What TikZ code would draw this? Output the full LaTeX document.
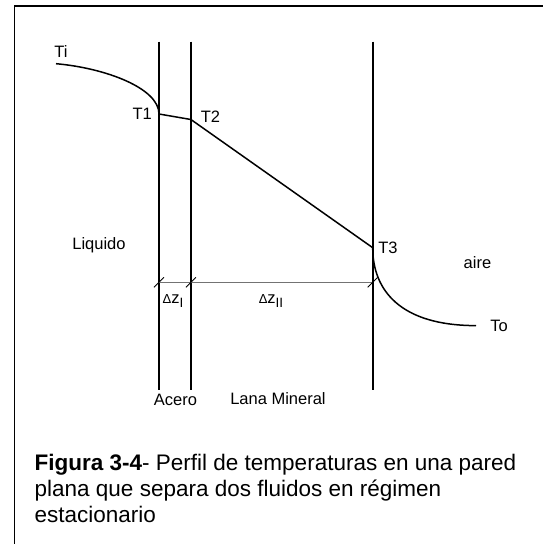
\documentclass[tikz,border=0pt]{standalone}
\usepackage{fontspec}
\setmainfont{Liberation Sans}
\usetikzlibrary{calc}
\begin{document}
\begin{tikzpicture}[x=1pt,y=-1pt,
  wall/.style={line width=1.7pt},
  prof/.style={line width=1.5pt},
  lbl/.style={font=\fontsize{16.5}{19}\selectfont, inner sep=0pt},
  dim/.style={draw=black!55, line width=0.8pt},
  tick/.style={line width=0.8pt}]
\useasboundingbox (0,0) rectangle (543,544);
\begin{scope}
\clip (0,0) rectangle (543,544);
\draw[line width=1.5pt] (14.5,600) -- (14.5,6) -- (600,6);
\end{scope}
% walls
\coordinate (w1t) at (159,41.5);  \coordinate (w1b) at (159,390);
\coordinate (w2t) at (190.9,41.5);\coordinate (w2b) at (190.9,390);
\coordinate (w3t) at (372.7,41.5);\coordinate (w3b) at (372.7,390);
\draw[wall] (w1t) -- (w1b);
\draw[wall] (w2t) -- (w2b);
\draw[wall] (w3t) -- (w3b);
% profile
\coordinate (pi) at (56,63.7);
\coordinate (p1) at (159,114);
\coordinate (p2) at (190.9,119.5);
\coordinate (p3) at (372.7,247.7);
\coordinate (po) at (476,325.6);
\draw[prof] (pi) .. controls (105,68) and (159,88) .. (p1) -- (p2) -- (p3)
  .. controls (372.7,290) and (400,325.6) .. (po);
% dimension line
\coordinate (d1) at (159,282.3);
\coordinate (d2) at (190.9,282.3);
\coordinate (d3) at (372.7,282.3);
\draw[dim] (d1) -- (d3);
\foreach \p in {d1,d2,d3}
  \draw[tick] ($(\p)+(-5,5)$) -- ($(\p)+(5,-5)$);
% labels
\node[lbl] (Ti) at (61,52) {Ti};
\node[lbl,anchor=east] (T1) at (152,114) {T1};
\node[lbl] (T2) at (210.5,116.5) {T2};
\node[lbl] (T3) at (388,248) {T3};
\node[lbl] (liq) at (99,245) {Liquido};
\node[lbl] (aire) at (477.5,263) {aire};
\node[lbl] (To) at (499,326) {To};
\node[lbl] (dzI) at (173,301) {{\fontsize{13}{15}\selectfont Δ}z\raisebox{-0.45ex}{\fontsize{13.5}{15}\selectfont I}};
\node[lbl] (dzII) at (271,301) {{\fontsize{13}{15}\selectfont Δ}z\raisebox{-0.45ex}{\fontsize{13.5}{15}\selectfont II}};
\node[lbl] (acero) at (175.5,400) {Acero};
\node[lbl] (lana) at (278,398.5) {Lana Mineral};
% caption
\node[anchor=west, inner sep=0pt, font=\fontsize{22.5}{26}\selectfont, align=left] (cap) at (34.5,488.4)
  {\textbf{Figura 3-4}- Perfil de temperaturas en una pared\\plana que separa dos fluidos en régimen\\estacionario};
\end{tikzpicture}
\end{document}
